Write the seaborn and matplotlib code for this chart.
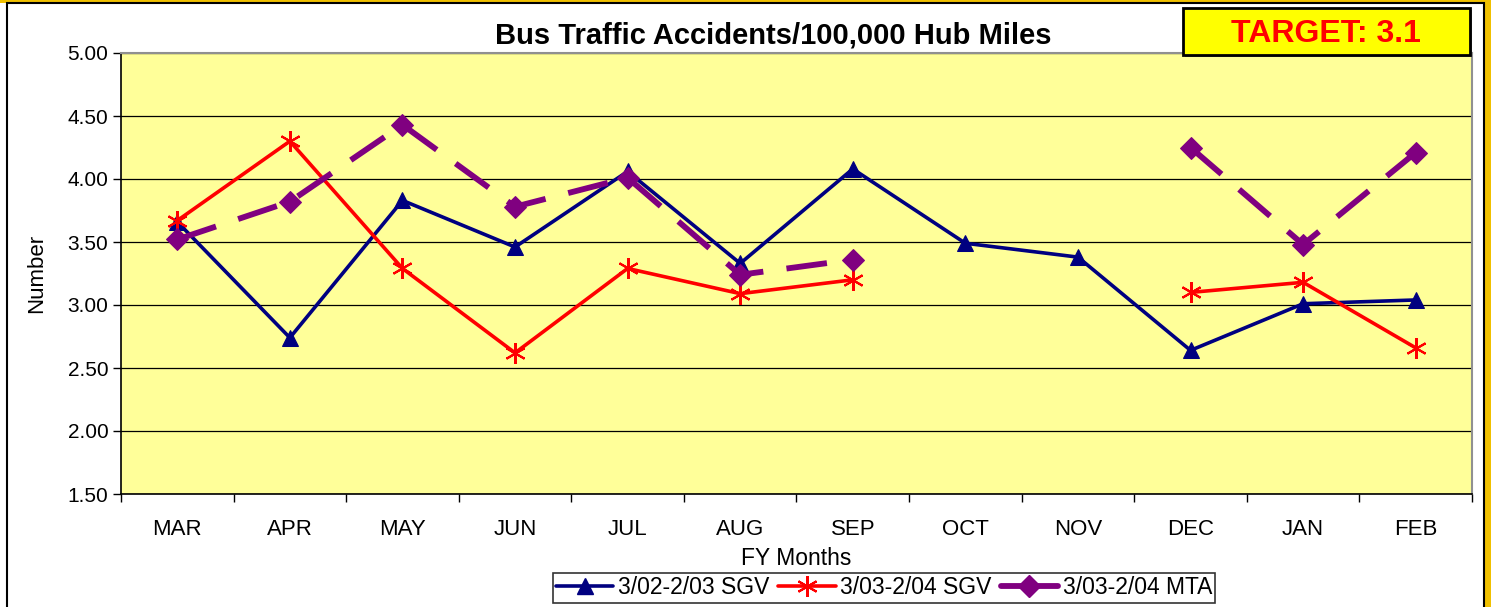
import numpy as np
import pandas as pd
import matplotlib
matplotlib.use("Agg")
import matplotlib.pyplot as plt
import matplotlib.patches as patches
from matplotlib.lines import Line2D
import seaborn as sns

months = ["MAR", "APR", "MAY", "JUN", "JUL", "AUG", "SEP", "OCT", "NOV", "DEC", "JAN", "FEB"]
sgv_0203 = [3.66, 2.74, 3.83, 3.46, 4.06, 3.33, 4.08, 3.49, 3.38, 2.64, 3.01, 3.04]
sgv_0304 = [3.67, 4.30, 3.29, 2.62, 3.29, 3.09, 3.20, np.nan, np.nan, 3.10, 3.18, 2.66]
mta_0304 = [3.52, 3.82, 4.43, 3.78, 4.01, 3.24, 3.36, np.nan, np.nan, 4.25, 3.48, 4.21]
series_names = ["3/02-2/03 SGV", "3/03-2/04 SGV", "3/03-2/04 MTA"]
target_text = "TARGET: 3.1"


def to_frame(values):
    # split into contiguous runs so gaps stay gaps
    df = pd.DataFrame({"x": np.arange(len(months)), "y": values})
    df["seg"] = df["y"].isna().cumsum()
    return df.dropna()


sns.set_style("white")
plt.rcParams["font.family"] = ["Liberation Sans", "DejaVu Sans"]
plt.rcParams["text.color"] = "black"
plt.rcParams["axes.labelcolor"] = "black"
plt.rcParams["xtick.color"] = "black"
plt.rcParams["ytick.color"] = "black"

fig = plt.figure(figsize=(14.91, 6.07), dpi=100)
ax = fig.add_axes([121 / 1491, 1 - 494 / 607, 1351 / 1491, 441 / 607])
ax.set_facecolor("#FFFF99")

navy = "#000080"
red = "#FF0000"
purple = "#800080"

sns.lineplot(data=to_frame(sgv_0203), x="x", y="y", units="seg", estimator=None, ax=ax,
             color=navy, linewidth=2.6, marker="^", markersize=12, markeredgecolor=navy,
             legend=False, zorder=3)
sns.lineplot(data=to_frame(sgv_0304), x="x", y="y", units="seg", estimator=None, ax=ax,
             color=red, linewidth=2.6, marker=(6, 2, 0), markersize=15, markeredgecolor=red,
             markeredgewidth=1.5, legend=False, zorder=4)
sns.lineplot(data=to_frame(mta_0304), x="x", y="y", units="seg", estimator=None, ax=ax,
             color=purple, linewidth=4.2, dashes=False, marker="D", markersize=11,
             markeredgecolor=purple, legend=False, zorder=5)
# purple series is dashed
for ln in ax.lines:
    if ln.get_color() == purple:
        ln.set_linestyle((0, (7, 4)))

ax.set_xlim(-0.5, len(months) - 0.5)
ax.set_ylim(1.5, 5.0)
yt = np.arange(1.5, 5.01, 0.5)
ax.set_yticks(yt)
ax.set_yticklabels([f"{v:.2f}" for v in yt], fontsize=15)
ax.set_xticks(np.arange(len(months)))
ax.set_xticklabels(months, fontsize=16)
ax.tick_params(axis="x", length=0, pad=18)
ax.tick_params(axis="y", length=6, width=1, direction="out", color="black", left=True, pad=3)
ax.set_xticks(np.arange(-0.5, len(months)), minor=True)
ax.tick_params(axis="x", which="minor", length=6, width=1, direction="out", color="black", bottom=True)
ax.grid(axis="y", color="black", linewidth=0.9)
ax.set_axisbelow(True)
for s in ["left", "bottom"]:
    ax.spines[s].set_color("black")
    ax.spines[s].set_linewidth(1.2)
for s in ["top", "right"]:
    ax.spines[s].set_color("#909090")
    ax.spines[s].set_linewidth(1.5)

ax.set_xlabel("FY Months", fontsize=16.5, labelpad=5)
ax.set_ylabel("Number", fontsize=16, labelpad=15)

fig.text(773 / 1491, 1 - 36 / 607, "Bus Traffic Accidents/100,000 Hub Miles",
         ha="center", va="center", fontsize=21, fontweight="bold")

# target box
fig.patches.append(patches.Rectangle((1185 / 1491, 1 - 57 / 607), 287 / 1491, 47 / 607,
                                     transform=fig.transFigure, facecolor="#808080",
                                     edgecolor="none", zorder=1))
fig.patches.append(patches.Rectangle((1183 / 1491, 1 - 55 / 607), 287 / 1491, 47 / 607,
                                     transform=fig.transFigure, facecolor="#FFFF00",
                                     edgecolor="black", linewidth=2, zorder=2))
fig.text(1326 / 1491, 1 - 34 / 607, target_text, ha="center", va="center",
         fontsize=23, fontweight="bold", color="red", zorder=3)

# outer chart frame
fig.patches.append(patches.Rectangle((0, 1 - 3 / 607), 1, 3 / 607, transform=fig.transFigure,
                                     facecolor="#F0C000", edgecolor="none"))
fig.patches.append(patches.Rectangle((1485 / 1491, 0), 6 / 1491, 1, transform=fig.transFigure,
                                     facecolor="#F0C000", edgecolor="none"))
fig.patches.append(patches.Rectangle((7 / 1491, -0.01), 1477 / 1491, 1 - 3 / 607 + 0.01,
                                     transform=fig.transFigure, facecolor="none",
                                     edgecolor="black", linewidth=1.5))

handles = [
    Line2D([], [], color=navy, linewidth=2.6, marker="^", markersize=12),
    Line2D([], [], color=red, linewidth=2.6, marker=(6, 2, 0), markersize=15, markeredgewidth=1.5),
    Line2D([], [], color=purple, linewidth=4.2, marker="D", markersize=11),
]
leg = fig.legend(handles, series_names, loc="center", bbox_to_anchor=(884 / 1491, 1 - 588 / 607),
                 ncol=3, fontsize=16.5, frameon=True, fancybox=False, handlelength=2.5,
                 handletextpad=0.2, columnspacing=0.4, borderpad=0.15, edgecolor="black")
leg.get_frame().set_linewidth(1.2)

fig.savefig("out.png", dpi=100, facecolor="white")
